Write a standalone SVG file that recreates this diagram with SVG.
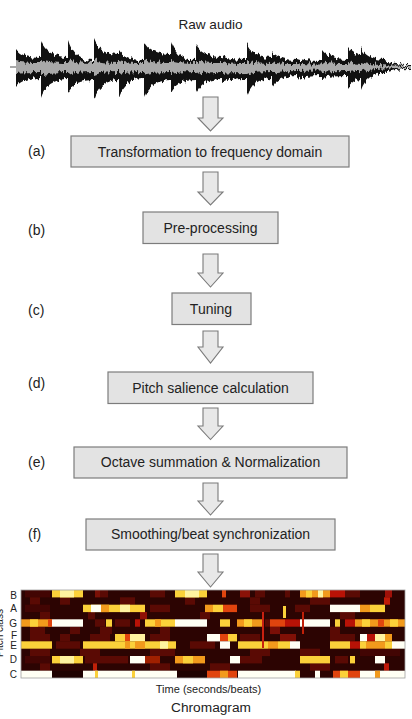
<svg xmlns="http://www.w3.org/2000/svg" width="412" height="719" viewBox="0 0 412 719">
<defs>
<style>
text{font-family:"Liberation Sans",Arial,sans-serif;fill:#222}
.lbl{font-size:14px}
.box{fill:#e3e3e3;stroke:#7c7c7c;stroke-width:1.2}
.bt{font-size:14px;text-anchor:middle}
.arr{fill:#e8e8e8;stroke:#7a7a7a;stroke-width:1.1;stroke-linejoin:miter}
.pc{font-size:10px;text-anchor:end}
.w{fill:#fffff4}.c{fill:#fff3a0}.y{fill:#fbd13a}.o{fill:#f29a1c}.R{fill:#e0440e}.r{fill:#b81206}.d{fill:#5a0a04}.dd{fill:#420503}
</style>
<filter id="jag" x="-2%" y="-30%" width="104%" height="160%" color-interpolation-filters="sRGB">
<feTurbulence type="fractalNoise" baseFrequency="0.45 0.06" numOctaves="2" seed="7" result="n"/>
<feColorMatrix in="n" type="matrix" values="0 0 0 0 0.5  0 1 0 0 0  0 0 0 0 0  0 0 0 0 1" result="m"/>
<feDisplacementMap in="SourceGraphic" in2="m" scale="9" xChannelSelector="R" yChannelSelector="G"/>
</filter>
</defs>
<rect width="412" height="719" fill="#ffffff"/>

<g id="raw-audio">
<text x="210.5" y="28.5" font-size="13.6" text-anchor="middle">Raw audio</text>
<line x1="10" y1="67" x2="17" y2="67" stroke="#555" stroke-width="1"/>
<g filter="url(#jag)">
<path fill="#111" d="M16,67 L16,49 Q22,58 41,58 L41,41 Q47,57 68,57 L68,40 Q74,61 94,61 L94,39 Q100,55 119,55 L119,50 Q125,60 144,60 L144,41 Q150,54 171,54 L171,41 Q177,60 196,60 L196,45 Q202,57 222,57 L222,56 Q228,60 247,60 L247,45 Q253,58 272,58 L272,51 Q278,60 297,60 L297,58 Q303,61 322,61 L322,50 Q328,59 348,59 L348,47 Q354,55 361,55 L361,48 Q367,60 385,60 L385,60 Q391,65 411,65 L411,69 Q391,69 385,74 L385,73 Q367,73 361,90 L361,79 Q354,79 348,87 L348,76 Q328,76 322,78 L322,76 Q303,76 297,80 L297,76 Q278,76 272,87 L272,78 Q253,78 247,97 L247,78 Q228,78 222,82 L222,79 Q202,79 196,93 L196,80 Q177,80 171,92 L171,80 Q150,80 144,98 L144,78 Q125,78 119,97 L119,80 Q100,80 94,100 L94,80 Q74,80 68,92 L68,79 Q47,79 41,98 L41,78 Q22,78 16,87 Z"/>
<path fill="#a9a9a9" d="M16,67 L16,61 Q22,63 41,63 L41,60 Q47,63 68,63 L68,60 Q74,63 94,63 L94,60 Q100,63 119,63 L119,61 Q125,63 144,63 L144,60 Q150,63 171,63 L171,60 Q177,63 196,63 L196,61 Q202,63 222,63 L222,62 Q228,64 247,64 L247,61 Q253,64 272,64 L272,62 Q278,64 297,64 L297,63 Q303,64.5 322,64.5 L322,62 Q328,64 348,64 L348,62 Q354,64 361,64 L361,62 Q367,65.5 411,66 L411,68 Q367,68 361,72 L361,71 Q354,71 348,72 L348,71 Q328,71 322,72 L322,70.5 Q303,70.5 297,71 L297,71 Q278,71 272,73 L272,71 Q253,71 247,74 L247,72 Q228,72 222,73 L222,72 Q202,72 196,74 L196,72 Q177,72 171,74 L171,72 Q150,72 144,75 L144,72 Q125,72 119,74 L119,72 Q100,72 94,75 L94,72 Q74,72 68,75 L68,72 Q47,72 41,75 L41,72 Q22,72 16,73 Z"/>
</g>
</g>

<g id="connectors">
<path class="arr" d="M203,97 H218 V118 H223 L210.5,131 L198,118 H203 Z"/>
<path class="arr" d="M203,172 H218 V192 H223 L210.5,205 L198,192 H203 Z"/>
<path class="arr" d="M203,254 H218 V273 H223 L210.5,287 L198,273 H203 Z"/>
<path class="arr" d="M203,331 H218 V347 H223 L210.5,363 L198,347 H203 Z"/>
<path class="arr" d="M203,408 H218 V426 H223 L210.5,439.5 L198,426 H203 Z"/>
<path class="arr" d="M203,483 H218 V501 H223 L210.5,515 L198,501 H203 Z"/>
<path class="arr" d="M203,554 H218 V572 H223 L210.5,587 L198,572 H203 Z"/>
</g>

<g id="step-a">
<text class="lbl" x="28" y="155.5">(a)</text>
<rect class="box" x="71" y="136" width="278" height="31"/>
<text class="bt" x="210" y="156.5">Transformation to frequency domain</text>
</g>
<g id="step-b">
<text class="lbl" x="28" y="234.5">(b)</text>
<rect class="box" x="143" y="212" width="135" height="31.5"/>
<text class="bt" x="210.5" y="232.5">Pre-processing</text>
</g>
<g id="step-c">
<text class="lbl" x="28" y="314.5">(c)</text>
<rect class="box" x="172" y="293" width="79" height="31.5"/>
<text class="bt" x="211" y="313.5">Tuning</text>
</g>
<g id="step-d">
<text class="lbl" x="28" y="388">(d)</text>
<rect class="box" x="108" y="372" width="205" height="31.5"/>
<text class="bt" x="210.5" y="392.8">Pitch salience calculation</text>
</g>
<g id="step-e">
<text class="lbl" x="28" y="467">(e)</text>
<rect class="box" x="74" y="447" width="273" height="31"/>
<text class="bt" x="210.5" y="467.2">Octave summation &amp; Normalization</text>
</g>
<g id="step-f">
<text class="lbl" x="28" y="539">(f)</text>
<rect class="box" x="86" y="519" width="249" height="31"/>
<text class="bt" x="210.5" y="539.4">Smoothing/beat synchronization</text>
</g>

<g id="chromagram">
<text x="3" y="633" font-size="10" text-anchor="middle" transform="rotate(-90 3 633)">Pitch class</text>
<text class="pc" x="17" y="599">B</text>
<text class="pc" x="17" y="611.8">A</text>
<text class="pc" x="17" y="626.5">G</text>
<text class="pc" x="17" y="638.8">F</text>
<text class="pc" x="17" y="648.8">E</text>
<text class="pc" x="17" y="663.2">D</text>
<text class="pc" x="17" y="677.6">C</text>
<rect x="21" y="590" width="384" height="88" fill="#2c0402"/>
<g>
<rect class="dd" x="25" y="590" width="25" height="7.4"/><rect x="95" y="590" width="5" height="7.4" fill="#7a1006"/><rect class="d" x="100" y="590" width="8" height="7.4"/><rect class="d" x="150" y="590" width="15" height="7.4"/><rect x="240" y="590" width="10" height="7.4" fill="#8a1208"/><rect class="d" x="255" y="590" width="10" height="7.4"/><rect class="d" x="285" y="590" width="5" height="7.4"/><rect class="d" x="345" y="590" width="15" height="7.4"/><rect x="385" y="590" width="7" height="7.4" fill="#a01008"/>
<rect class="d" x="30" y="597.3" width="10" height="7.4"/><rect class="d" x="60" y="597.3" width="10" height="7.4"/><rect class="d" x="120" y="597.3" width="15" height="7.4"/><rect class="d" x="185" y="597.3" width="10" height="7.4"/><rect class="d" x="250" y="597.3" width="10" height="7.4"/><rect class="d" x="310" y="597.3" width="20" height="7.4"/><rect x="384" y="597.3" width="6" height="7.4" fill="#c01a08"/>
<rect class="dd" x="25" y="604.7" width="25" height="7.4"/><rect class="d" x="150" y="604.7" width="20" height="7.4"/><rect class="d" x="250" y="604.7" width="20" height="7.4"/><rect class="d" x="295" y="604.7" width="15" height="7.4"/>
<rect class="d" x="40" y="612" width="10" height="7.4"/><rect class="d" x="88" y="612" width="7" height="7.4"/><rect x="140" y="612" width="7" height="7.4" fill="#901006"/><rect class="d" x="200" y="612" width="10" height="7.4"/><rect class="d" x="340" y="612" width="15" height="7.4"/>
<rect class="d" x="95" y="619.3" width="10" height="7.4"/><rect class="d" x="115" y="619.3" width="15" height="7.4"/><rect class="d" x="265" y="619.3" width="5" height="7.4"/>
<rect class="d" x="30" y="626.7" width="15" height="7.4"/><rect class="d" x="70" y="626.7" width="10" height="7.4"/><rect class="d" x="100" y="626.7" width="12" height="7.4"/><rect class="d" x="160" y="626.7" width="10" height="7.4"/><rect x="270" y="626.7" width="10" height="7.4" fill="#7a0e06"/><rect class="d" x="330" y="626.7" width="10" height="7.4"/>
<rect class="d" x="30" y="634" width="20" height="7.4"/><rect class="d" x="60" y="634" width="10" height="7.4"/><rect class="d" x="90" y="634" width="20" height="7.4"/><rect class="d" x="150" y="634" width="20" height="7.4"/><rect class="d" x="240" y="634" width="20" height="7.4"/><rect x="280" y="634" width="16" height="7.4" fill="#801006"/><rect class="d" x="330" y="634" width="25" height="7.4"/>
<rect class="d" x="56" y="641.3" width="24" height="7.4"/><rect class="d" x="190" y="641.3" width="25" height="7.4"/>
<rect class="d" x="30" y="648.7" width="20" height="7.4"/><rect class="d" x="80" y="648.7" width="20" height="7.4"/><rect class="d" x="150" y="648.7" width="25" height="7.4"/><rect class="d" x="250" y="648.7" width="20" height="7.4"/><rect class="d" x="300" y="648.7" width="20" height="7.4"/><rect class="dd" x="360" y="648.7" width="40" height="7.4"/>
<rect class="dd" x="25" y="656" width="25" height="7.4"/><rect class="d" x="85" y="656" width="43" height="7.4"/><rect class="d" x="240" y="656" width="22" height="7.4"/><rect class="d" x="335" y="656" width="13" height="7.4"/>
<rect class="d" x="40" y="663.3" width="10" height="7.4"/><rect x="93" y="663.3" width="4" height="7.4" fill="#c02008"/><rect class="d" x="150" y="663.3" width="20" height="7.4"/><rect class="d" x="210" y="663.3" width="20" height="7.4"/><rect class="d" x="310" y="663.3" width="20" height="7.4"/><rect x="384" y="663.3" width="5" height="7.4" fill="#c01808"/>
<rect x="52" y="670.7" width="31" height="7.3" fill="#1e0201"/><rect x="177" y="670.7" width="30" height="7.3" fill="#1e0201"/>
</g>
<g>
<rect class="y" x="52" y="590" width="31" height="7.4"/><rect class="c" x="60" y="590" width="14" height="7.4"/>
<rect class="y" x="175" y="590" width="32" height="7.4"/><rect class="c" x="185" y="590" width="14" height="7.4"/>
<rect class="R" x="222" y="590" width="4" height="7.4"/>
<rect class="o" x="300" y="590" width="30" height="7.4"/><rect class="y" x="306" y="590" width="6" height="7.4"/><rect class="c" x="318" y="590" width="5" height="7.4"/><rect class="r" x="330" y="590" width="15" height="7.4"/>
<rect class="y" x="83" y="604.7" width="62" height="7.4"/><rect class="w" x="91" y="604.7" width="10" height="7.4"/><rect class="o" x="101" y="604.7" width="8" height="7.4"/><rect class="c" x="120" y="604.7" width="10" height="7.4"/>
<rect class="o" x="205" y="604.7" width="8" height="7.4"/><rect class="y" x="213" y="604.7" width="10" height="7.4"/><rect class="R" x="223" y="604.7" width="14" height="7.4"/>
<rect class="y" x="283" y="606" width="3" height="12"/>
<rect class="w" x="330" y="604.7" width="30" height="7.4"/><rect class="o" x="360" y="604.7" width="10" height="7.4"/><rect class="y" x="370" y="604.7" width="15" height="7.4"/>
<rect class="o" x="21" y="619.3" width="31" height="7.4"/><rect class="y" x="30" y="619.3" width="8" height="7.4"/><rect class="R" x="48" y="619.3" width="4" height="7.4"/>
<rect class="w" x="52" y="619.3" width="31" height="7.4"/>
<rect class="y" x="106" y="619.3" width="6" height="7.4"/>
<rect class="r" x="135" y="619.3" width="5" height="7.4"/><rect class="y" x="145" y="619.3" width="30" height="7.4"/><rect class="o" x="155" y="619.3" width="6" height="7.4"/>
<rect class="w" x="175" y="619.3" width="32" height="7.4"/>
<rect class="y" x="220" y="619.3" width="10" height="7.4"/>
<rect class="o" x="237" y="619.3" width="25" height="7.4"/><rect class="y" x="244" y="619.3" width="8" height="7.4"/>
<rect class="R" x="270" y="619.3" width="15" height="7.4"/><rect class="r" x="285" y="619.3" width="15" height="7.4"/>
<rect class="w" x="300" y="619.3" width="30" height="7.4"/><rect class="y" x="335" y="619.3" width="5" height="7.4"/><rect class="r" x="345" y="619.3" width="10" height="7.4"/>
<rect class="o" x="355" y="619.3" width="50" height="7.4"/><rect class="y" x="362" y="619.3" width="8" height="7.4"/><rect class="R" x="378" y="619.3" width="6" height="7.4"/><rect class="y" x="390" y="619.3" width="8" height="7.4"/>
<rect class="y" x="115" y="634" width="10" height="7.4"/><rect class="R" x="125" y="634" width="5" height="7.4"/><rect class="c" x="130" y="634" width="15" height="7.4"/>
<rect class="w" x="207" y="634" width="13" height="7.4"/><rect class="R" x="220" y="634" width="8" height="7.4"/><rect class="y" x="228" y="634" width="9" height="7.4"/>
<rect class="w" x="360" y="634" width="7" height="7.4"/><rect class="r" x="367" y="634" width="8" height="7.4"/><rect class="c" x="375" y="634" width="10" height="7.4"/><rect class="o" x="385" y="634" width="7" height="7.4"/>
<rect class="y" x="21" y="641.3" width="31" height="7.4"/>
<rect class="y" x="83" y="641.3" width="62" height="7.4"/><rect class="o" x="125" y="641.3" width="5" height="7.4"/><rect class="o" x="135" y="641.3" width="10" height="7.4"/><rect class="y" x="145" y="641.3" width="31" height="7.4"/><rect class="c" x="160" y="641.3" width="8" height="7.4"/>
<rect class="w" x="220" y="641.3" width="10" height="7.4"/>
<rect class="y" x="238" y="641.3" width="30" height="7.4"/><rect class="o" x="268" y="641.3" width="10" height="7.4"/><rect class="y" x="278" y="641.3" width="12" height="7.4"/><rect class="w" x="290" y="641.3" width="10" height="7.4"/>
<rect class="y" x="330" y="641.3" width="20" height="7.4"/><rect class="r" x="350" y="641.3" width="10" height="7.4"/><rect class="y" x="360" y="641.3" width="6" height="7.4"/><rect class="o" x="366" y="641.3" width="19" height="7.4"/><rect class="y" x="385" y="641.3" width="7" height="7.4"/><rect class="w" x="392" y="641.3" width="13" height="7.4"/>
<rect class="y" x="52" y="656" width="31" height="7.4"/><rect class="c" x="60" y="656" width="14" height="7.4"/>
<rect class="w" x="130" y="656" width="15" height="7.4"/><rect x="145" y="656" width="15" height="7.4" fill="#a02000"/>
<rect class="o" x="175" y="656" width="30" height="7.4"/><rect class="y" x="183" y="656" width="10" height="7.4"/>
<rect class="w" x="230" y="656" width="10" height="7.4"/>
<rect class="y" x="300" y="656" width="30" height="7.4"/><rect class="y" x="350" y="656" width="5" height="7.4"/><rect class="w" x="375" y="656" width="10" height="7.4"/>
<rect class="w" x="21" y="670.7" width="31" height="7.3"/>
<rect class="w" x="83" y="670.7" width="94" height="7.3"/><rect class="y" x="95" y="670.7" width="3" height="7.3"/><rect class="y" x="132" y="670.7" width="3" height="7.3"/>
<rect class="R" x="207" y="670.7" width="30" height="7.3"/><rect class="o" x="220" y="670.7" width="8" height="7.3"/>
<rect class="w" x="238" y="670.7" width="58" height="7.3"/><rect class="y" x="295" y="670.7" width="5" height="7.3"/>
<rect class="w" x="315" y="670.7" width="5" height="7.3"/>
<rect class="R" x="333" y="670.7" width="27" height="7.3"/><rect class="y" x="340" y="670.7" width="8" height="7.3"/>
<rect class="w" x="360" y="670.7" width="45" height="7.3"/><rect class="o" x="375" y="670.7" width="5" height="7.3"/>
<rect x="262" y="612" width="2" height="36" fill="#c82010"/>
<rect x="302" y="612" width="2" height="22" fill="#c02008"/>
</g>
<rect x="21" y="590" width="384" height="88" fill="none" stroke="#a0a0a0" stroke-width="0.8"/>
<text x="208.5" y="692.5" font-size="11" text-anchor="middle">Time (seconds/beats)</text>
<text x="211" y="711.5" font-size="13.7" text-anchor="middle">Chromagram</text>
</g>
</svg>
